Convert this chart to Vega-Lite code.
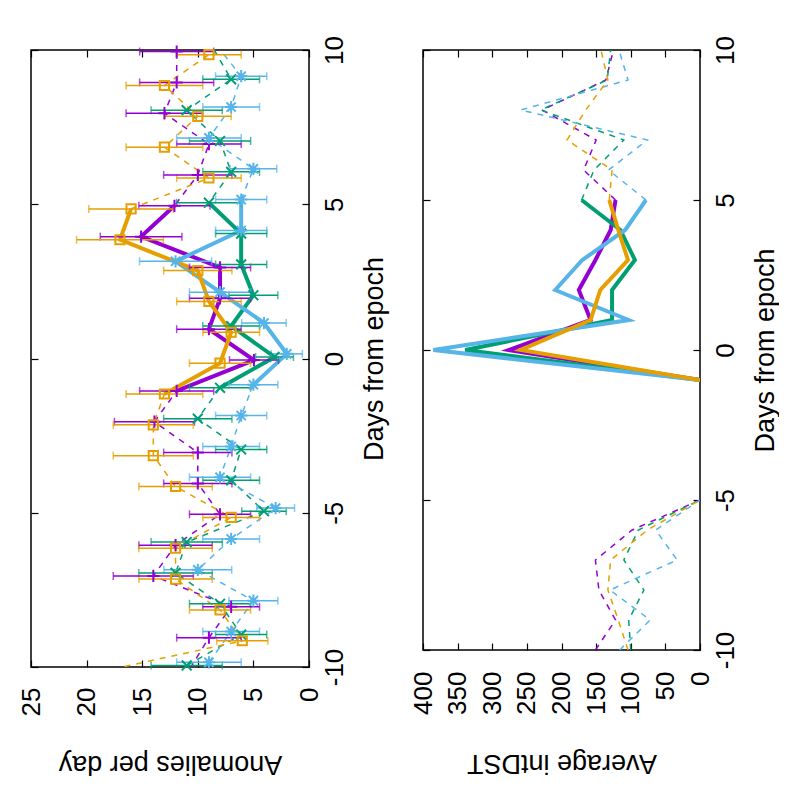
{
  "$schema": "https://vega.github.io/schema/vega-lite/v6.json",
  "padding": {"left": 17, "top": 34, "right": 0, "bottom": 0},
  "background": "white",
  "config": {
    "view": {"stroke": "black", "strokeWidth": 1.5},
    "font": "Liberation Sans",
    "axis": {
      "labelFont": "Liberation Sans",
      "titleFont": "Liberation Sans",
      "labelFontSize": 26,
      "titleFontSize": 27,
      "titleFontWeight": "normal",
      "labelColor": "black",
      "titleColor": "black",
      "tickColor": "black",
      "tickWidth": 1.2,
      "grid": false,
      "domain": false
    }
  },
  "datasets": {
    "left": [
      {"s": "s1", "day": -10.05, "v": 10.7, "err": 3.2},
      {"s": "s1", "day": -9.05, "v": 9.0, "err": 2.9},
      {"s": "s1", "day": -8.05, "v": 7.0, "err": 2.55},
      {"s": "s1", "day": -7.05, "v": 14.0, "err": 3.6},
      {"s": "s1", "day": -6.05, "v": 12.0, "err": 3.3},
      {"s": "s1", "day": -5.05, "v": 8.0, "err": 2.75},
      {"s": "s1", "day": -4.05, "v": 10.0, "err": 3.07},
      {"s": "s1", "day": -3.05, "v": 10.0, "err": 3.07},
      {"s": "s1", "day": -2.05, "v": 13.9, "err": 3.6},
      {"s": "s1", "day": -1.05, "v": 11.9, "err": 3.33},
      {"s": "s1", "day": -0.05, "v": 4.95, "err": 2.2},
      {"s": "s1", "day": 0.95, "v": 9.0, "err": 2.9},
      {"s": "s1", "day": 1.95, "v": 8.0, "err": 2.75},
      {"s": "s1", "day": 2.95, "v": 8.0, "err": 2.75},
      {"s": "s1", "day": 3.95, "v": 15.1, "err": 3.67},
      {"s": "s1", "day": 4.95, "v": 12.1, "err": 3.2},
      {"s": "s1", "day": 5.95, "v": 10.0, "err": 3.07},
      {"s": "s1", "day": 6.95, "v": 9.0, "err": 2.9},
      {"s": "s1", "day": 7.95, "v": 13.0, "err": 3.45},
      {"s": "s1", "day": 8.95, "v": 11.9, "err": 3.33},
      {"s": "s1", "day": 9.95, "v": 11.9, "err": 3.33},
      {"s": "s2", "day": -9.95, "v": 11.0, "err": 3.2},
      {"s": "s2", "day": -8.95, "v": 6.1, "err": 2.3},
      {"s": "s2", "day": -7.95, "v": 8.0, "err": 2.75},
      {"s": "s2", "day": -6.95, "v": 12.0, "err": 3.3},
      {"s": "s2", "day": -5.95, "v": 11.0, "err": 3.2},
      {"s": "s2", "day": -4.95, "v": 4.05, "err": 2.0},
      {"s": "s2", "day": -3.95, "v": 7.0, "err": 2.55},
      {"s": "s2", "day": -2.95, "v": 6.1, "err": 2.3},
      {"s": "s2", "day": -1.95, "v": 10.0, "err": 3.07},
      {"s": "s2", "day": -0.95, "v": 8.0, "err": 2.75},
      {"s": "s2", "day": 0.05, "v": 3.1, "err": 1.7},
      {"s": "s2", "day": 1.05, "v": 7.0, "err": 2.55},
      {"s": "s2", "day": 2.05, "v": 5.0, "err": 2.2},
      {"s": "s2", "day": 3.05, "v": 6.1, "err": 2.3},
      {"s": "s2", "day": 4.05, "v": 6.1, "err": 2.3},
      {"s": "s2", "day": 5.05, "v": 9.0, "err": 2.9},
      {"s": "s2", "day": 6.05, "v": 7.0, "err": 2.55},
      {"s": "s2", "day": 7.05, "v": 8.0, "err": 2.75},
      {"s": "s2", "day": 8.05, "v": 11.0, "err": 3.2},
      {"s": "s2", "day": 9.05, "v": 7.0, "err": 2.55},
      {"s": "s2", "day": 10.05, "v": 8.6, "err": 2.9},
      {"s": "s3", "day": -9.85, "v": 9.0, "err": 2.9},
      {"s": "s3", "day": -8.85, "v": 7.0, "err": 2.55},
      {"s": "s3", "day": -7.85, "v": 5.0, "err": 2.2},
      {"s": "s3", "day": -6.85, "v": 10.0, "err": 3.05},
      {"s": "s3", "day": -5.85, "v": 7.0, "err": 2.55},
      {"s": "s3", "day": -4.85, "v": 3.0, "err": 1.7},
      {"s": "s3", "day": -3.85, "v": 8.0, "err": 2.75},
      {"s": "s3", "day": -2.85, "v": 7.0, "err": 2.55},
      {"s": "s3", "day": -1.85, "v": 6.1, "err": 2.3},
      {"s": "s3", "day": -0.85, "v": 5.0, "err": 2.2},
      {"s": "s3", "day": 0.15, "v": 2.0, "err": 1.4},
      {"s": "s3", "day": 1.15, "v": 4.05, "err": 2.0},
      {"s": "s3", "day": 2.15, "v": 8.0, "err": 2.75},
      {"s": "s3", "day": 3.15, "v": 12.0, "err": 3.24},
      {"s": "s3", "day": 4.15, "v": 6.1, "err": 2.3},
      {"s": "s3", "day": 5.15, "v": 6.1, "err": 2.3},
      {"s": "s3", "day": 6.15, "v": 5.0, "err": 2.1},
      {"s": "s3", "day": 7.15, "v": 9.0, "err": 2.9},
      {"s": "s3", "day": 8.15, "v": 7.0, "err": 2.55},
      {"s": "s3", "day": 9.15, "v": 6.1, "err": 2.3},
      {"s": "s3", "day": 10.15, "v": 8.3, "err": 2.9},
      {"s": "s4", "day": -10.15, "v": 18.7, "err": 4.0},
      {"s": "s4", "day": -9.15, "v": 6.0, "err": 2.3},
      {"s": "s4", "day": -8.15, "v": 8.0, "err": 2.75},
      {"s": "s4", "day": -7.15, "v": 12.0, "err": 3.3},
      {"s": "s4", "day": -6.15, "v": 12.0, "err": 3.3},
      {"s": "s4", "day": -5.15, "v": 7.0, "err": 2.55},
      {"s": "s4", "day": -4.15, "v": 12.0, "err": 3.3},
      {"s": "s4", "day": -3.15, "v": 14.0, "err": 3.6},
      {"s": "s4", "day": -2.15, "v": 14.0, "err": 3.6},
      {"s": "s4", "day": -1.15, "v": 13.0, "err": 3.45},
      {"s": "s4", "day": -0.15, "v": 8.0, "err": 2.75},
      {"s": "s4", "day": 0.85, "v": 7.0, "err": 2.55},
      {"s": "s4", "day": 1.85, "v": 9.0, "err": 2.9},
      {"s": "s4", "day": 2.85, "v": 10.0, "err": 3.07},
      {"s": "s4", "day": 3.85, "v": 17.0, "err": 3.9},
      {"s": "s4", "day": 4.85, "v": 16.0, "err": 3.8},
      {"s": "s4", "day": 5.85, "v": 9.0, "err": 2.9},
      {"s": "s4", "day": 6.85, "v": 13.0, "err": 3.45},
      {"s": "s4", "day": 7.85, "v": 10.0, "err": 3.0},
      {"s": "s4", "day": 8.85, "v": 13.0, "err": 3.45},
      {"s": "s4", "day": 9.85, "v": 9.0, "err": 2.9}
    ],
    "right": [
      {"s": "s1", "day": -10, "v": 151}, {"s": "s1", "day": -9, "v": 122}, {"s": "s1", "day": -8, "v": 146},
      {"s": "s1", "day": -7, "v": 151}, {"s": "s1", "day": -6, "v": 98}, {"s": "s1", "day": -5, "v": 0},
      {"s": "s1", "day": -1, "v": 0}, {"s": "s1", "day": 0, "v": 276}, {"s": "s1", "day": 1, "v": 158},
      {"s": "s1", "day": 2, "v": 175}, {"s": "s1", "day": 3, "v": 151}, {"s": "s1", "day": 4, "v": 129},
      {"s": "s1", "day": 5, "v": 122}, {"s": "s1", "day": 6, "v": 168}, {"s": "s1", "day": 7, "v": 150},
      {"s": "s1", "day": 8, "v": 228}, {"s": "s1", "day": 9, "v": 136}, {"s": "s1", "day": 10, "v": 125},
      {"s": "s2", "day": -10, "v": 100}, {"s": "s2", "day": -9, "v": 103}, {"s": "s2", "day": -8, "v": 81},
      {"s": "s2", "day": -7, "v": 110}, {"s": "s2", "day": -6, "v": 89}, {"s": "s2", "day": -5, "v": 0},
      {"s": "s2", "day": -1, "v": 0}, {"s": "s2", "day": 0, "v": 339}, {"s": "s2", "day": 1, "v": 127},
      {"s": "s2", "day": 2, "v": 127}, {"s": "s2", "day": 3, "v": 94}, {"s": "s2", "day": 4, "v": 115},
      {"s": "s2", "day": 5, "v": 171}, {"s": "s2", "day": 6, "v": 153}, {"s": "s2", "day": 7, "v": 110},
      {"s": "s2", "day": 8, "v": 230}, {"s": "s2", "day": 9, "v": 134}, {"s": "s2", "day": 10, "v": 129},
      {"s": "s3", "day": -10, "v": 116}, {"s": "s3", "day": -9, "v": 72}, {"s": "s3", "day": -8, "v": 130},
      {"s": "s3", "day": -7, "v": 33}, {"s": "s3", "day": -6, "v": 64}, {"s": "s3", "day": -5, "v": 0},
      {"s": "s3", "day": -1, "v": 0}, {"s": "s3", "day": 0, "v": 385}, {"s": "s3", "day": 1, "v": 103},
      {"s": "s3", "day": 2, "v": 209}, {"s": "s3", "day": 3, "v": 170}, {"s": "s3", "day": 4, "v": 108},
      {"s": "s3", "day": 5, "v": 78}, {"s": "s3", "day": 6, "v": 132}, {"s": "s3", "day": 7, "v": 76},
      {"s": "s3", "day": 8, "v": 259}, {"s": "s3", "day": 9, "v": 104}, {"s": "s3", "day": 10, "v": 117},
      {"s": "s4", "day": -10, "v": 104}, {"s": "s4", "day": -9, "v": 118}, {"s": "s4", "day": -8, "v": 133},
      {"s": "s4", "day": -7, "v": 129}, {"s": "s4", "day": -6, "v": 76}, {"s": "s4", "day": -5, "v": 0},
      {"s": "s4", "day": -1, "v": 0}, {"s": "s4", "day": 0, "v": 259}, {"s": "s4", "day": 1, "v": 158},
      {"s": "s4", "day": 2, "v": 144}, {"s": "s4", "day": 3, "v": 104}, {"s": "s4", "day": 4, "v": 118},
      {"s": "s4", "day": 5, "v": 131}, {"s": "s4", "day": 6, "v": 127}, {"s": "s4", "day": 7, "v": 192},
      {"s": "s4", "day": 8, "v": 165}, {"s": "s4", "day": 9, "v": 133}, {"s": "s4", "day": 10, "v": 143}
    ]
  },
  "hconcat": [
    {
      "width": 278,
      "height": 617,
      "data": {"name": "left"},
      "resolve": {"axis": {"x": "independent", "y": "independent"}},
      "layer": [
        {
          "mark": {"type": "line", "strokeDash": [6, 6], "strokeWidth": 1.5, "clip": true},
          "encoding": {
            "x": {"field": "v", "type": "quantitative", "scale": {"domain": [0, 25], "reverse": true, "nice": false},
              "axis": {"orient": "bottom", "title": "Anomalies per day", "values": [0, 5, 10, 15, 20, 25],
                "labelAngle": 270, "labelAlign": "right", "labelBaseline": "middle", "tickSize": -7, "labelPadding": 27,
                "titleAngle": 180, "titleBaseline": "bottom", "titlePadding": 34}},
            "y": {"field": "day", "type": "quantitative", "scale": {"domain": [-10, 10], "nice": false},
              "axis": {"orient": "right", "title": "Days from epoch", "values": [-10, -5, 0, 5, 10],
                "labelExpr": "toString(datum.value)",
                "labelAngle": 270, "labelAlign": "center", "labelBaseline": "top", "tickSize": -7, "labelPadding": 19,
                "titleAngle": 270, "titleBaseline": "top", "titlePadding": 14}},
            "color": {"field": "s", "type": "nominal", "legend": null,
              "scale": {"domain": ["s1", "s2", "s3", "s4"], "range": ["#9400d3", "#009e73", "#56b4e9", "#e69f00"]}},
            "order": {"field": "day", "type": "quantitative"}
          }
        },
        {
          "transform": [{"filter": {"field": "day", "range": [-1.2, 5.2]}}],
          "mark": {"type": "line", "strokeWidth": 4, "clip": true},
          "encoding": {
            "x": {"field": "v", "type": "quantitative",
              "axis": {"orient": "top", "title": null, "labels": false, "values": [0, 5, 10, 15, 20, 25], "tickSize": -7, "minExtent": 0, "maxExtent": 0}},
            "y": {"field": "day", "type": "quantitative",
              "axis": {"orient": "left", "title": null, "labels": false, "values": [-10, -5, 0, 5, 10], "tickSize": -7, "minExtent": 0, "maxExtent": 0}},
            "color": {"field": "s", "type": "nominal", "legend": null},
            "order": {"field": "day", "type": "quantitative"}
          }
        },
        {
          "transform": [{"filter": {"field": "day", "range": [-10, 10]}}],
          "mark": {"type": "errorbar", "ticks": {"size": 8}, "thickness": 1.5},
          "encoding": {
            "x": {"field": "v", "type": "quantitative", "axis": null},
            "xError": {"field": "err"},
            "y": {"field": "day", "type": "quantitative", "axis": null},
            "color": {"field": "s", "type": "nominal", "legend": null}
          }
        },
        {
          "transform": [{"filter": {"field": "day", "range": [-10, 10]}}],
          "mark": {"type": "point", "filled": false, "strokeWidth": 2, "opacity": 1},
          "encoding": {
            "x": {"field": "v", "type": "quantitative", "axis": null},
            "y": {"field": "day", "type": "quantitative", "axis": null},
            "color": {"field": "s", "type": "nominal", "legend": null},
            "shape": {"field": "s", "type": "nominal", "legend": null,
              "scale": {"domain": ["s1", "s2", "s3", "s4"],
                "range": ["M-1,0L1,0M0,-1L0,1", "M-0.8,-0.8L0.8,0.8M-0.8,0.8L0.8,-0.8", "M-1,0L1,0M0,-1L0,1M-0.75,-0.75L0.75,0.75M-0.75,0.75L0.75,-0.75", "M-0.75,-0.75L0.75,-0.75L0.75,0.75L-0.75,0.75Z"]}},
            "size": {"value": 150}
          }
        }
      ]
    },
    {
      "width": 277,
      "height": 600,
      "data": {"name": "right"},
      "resolve": {"axis": {"x": "independent", "y": "independent"}},
      "layer": [
        {
          "transform": [{"filter": {"field": "day", "lte": -5}}],
          "mark": {"type": "line", "strokeDash": [6, 6], "strokeWidth": 1.5, "clip": true},
          "encoding": {
            "x": {"field": "v", "type": "quantitative", "scale": {"domain": [0, 400], "reverse": true, "nice": false},
              "axis": {"orient": "bottom", "title": "Average intDST", "values": [0, 50, 100, 150, 200, 250, 300, 350, 400],
                "labelAngle": 270, "labelAlign": "right", "labelBaseline": "middle", "tickSize": -7, "labelPadding": 28,
                "titleAngle": 180, "titleBaseline": "bottom", "titlePadding": 34}},
            "y": {"field": "day", "type": "quantitative", "scale": {"domain": [-10, 10], "nice": false},
              "axis": {"orient": "right", "title": "Days from epoch", "values": [-10, -5, 0, 5, 10],
                "labelExpr": "toString(datum.value)",
                "labelAngle": 270, "labelAlign": "center", "labelBaseline": "top", "tickSize": -7, "labelPadding": 19,
                "titleAngle": 270, "titleBaseline": "top", "titlePadding": 14}},
            "color": {"field": "s", "type": "nominal", "legend": null,
              "scale": {"domain": ["s1", "s2", "s3", "s4"], "range": ["#9400d3", "#009e73", "#56b4e9", "#e69f00"]}},
            "order": {"field": "day", "type": "quantitative"}
          }
        },
        {
          "transform": [{"filter": {"field": "day", "gte": 5}}],
          "mark": {"type": "line", "strokeDash": [6, 6], "strokeWidth": 1.5, "clip": true},
          "encoding": {
            "x": {"field": "v", "type": "quantitative",
              "axis": {"orient": "top", "title": null, "labels": false, "values": [0, 50, 100, 150, 200, 250, 300, 350, 400], "tickSize": -7, "minExtent": 0, "maxExtent": 0}},
            "y": {"field": "day", "type": "quantitative",
              "axis": {"orient": "left", "title": null, "labels": false, "values": [-10, -5, 0, 5, 10], "tickSize": -7, "minExtent": 0, "maxExtent": 0}},
            "color": {"field": "s", "type": "nominal", "legend": null},
            "order": {"field": "day", "type": "quantitative"}
          }
        },
        {
          "transform": [{"filter": {"field": "day", "range": [-1, 5]}}],
          "mark": {"type": "line", "strokeWidth": 4, "clip": true},
          "encoding": {
            "x": {"field": "v", "type": "quantitative", "axis": null},
            "y": {"field": "day", "type": "quantitative", "axis": null},
            "color": {"field": "s", "type": "nominal", "legend": null},
            "order": {"field": "day", "type": "quantitative"}
          }
        }
      ]
    }
  ],
  "spacing": 21
}
